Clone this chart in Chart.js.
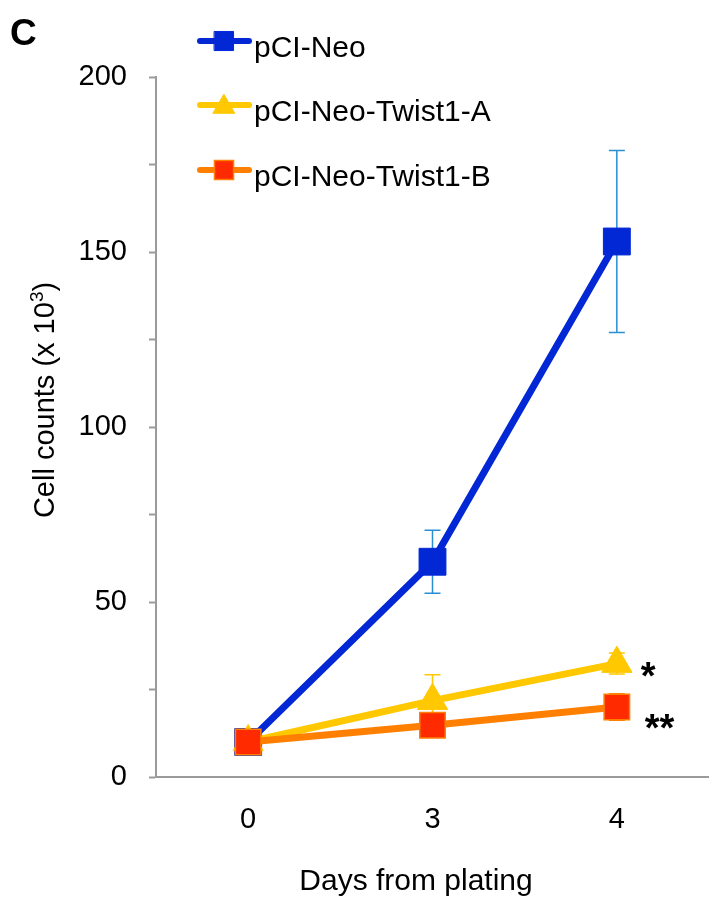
<!DOCTYPE html>
<html>
<head>
<meta charset="utf-8">
<script src="https://cdn.jsdelivr.net/npm/chart.js@4.4.1/dist/chart.umd.min.js"></script>
<style>
    html, body { margin: 0; padding: 0; background: #fff; }
    #wrap { width: 709px; height: 899px; position: relative; }
</style>
</head>
<body>
<div id="wrap"><canvas id="growthChart"></canvas></div>
<script>
// Data (cell counts x 10^3)
const days = ['0', '3', '4'];
const seriesNames = ['pCI-Neo', 'pCI-Neo-Twist1-A', 'pCI-Neo-Twist1-B'];
const neoCounts = [10, 61.5, 153];
const twistACounts = [10, 21.8, 32.4];
const twistBCounts = [10, 14.8, 20];
const neoErrors = [0, 9, 26];
const twistAErrors = [0, 7.4, 3];
const twistBErrors = [0, 1.5, 3.8];
const significance = ['', '*', '**'];
const yTickLabels = [0, 50, 100, 150, 200];

const FONT = "'Liberation Sans', Arial, Helvetica, sans-serif";
Chart.defaults.font.family = FONT;
Chart.defaults.color = '#000';

const AXIS_GREY = '#9a9a9a';

// Error bars, drawn under the lines and markers
const errorBars = {
    id: 'errorBars',
    beforeDatasetsDraw(chart) {
        const ctx = chart.ctx;
        const y = chart.scales.y;
        chart.data.datasets.forEach((ds, di) => {
            const meta = chart.getDatasetMeta(di);
            ds.errors.forEach((err, i) => {
                if (!err) return;
                const x = meta.data[i].x;
                const top = y.getPixelForValue(ds.data[i] + err);
                const bottom = y.getPixelForValue(ds.data[i] - err);
                ctx.save();
                ctx.strokeStyle = ds.errorColor;
                ctx.lineWidth = 1.5;
                ctx.beginPath();
                ctx.moveTo(x, top); ctx.lineTo(x, bottom);
                ctx.moveTo(x - 8, top); ctx.lineTo(x + 8, top);
                ctx.moveTo(x - 8, bottom); ctx.lineTo(x + 8, bottom);
                ctx.stroke();
                ctx.restore();
            });
        });
    }
};

// Panel letter, legend, axis titles and significance stars
const annotations = {
    id: 'annotations',
    afterDraw(chart) {
        const ctx = chart.ctx;
        const {x, y} = chart.scales;
        ctx.save();

        // panel letter
        ctx.fillStyle = '#000';
        ctx.font = 'bold 37px ' + FONT;
        ctx.textBaseline = 'alphabetic';
        ctx.textAlign = 'left';
        ctx.fillText('C', 10, 45);

        // legend
        const rowY = [41, 105, 170];
        chart.data.datasets.forEach((ds, i) => {
            const ly = rowY[i];
            ctx.strokeStyle = ds.borderColor;
            ctx.lineWidth = 6;
            ctx.lineCap = 'round';
            ctx.beginPath();
            ctx.moveTo(200, ly);
            ctx.lineTo(249, ly);
            ctx.stroke();
            ctx.fillStyle = ds.pointBackgroundColor;
            ctx.strokeStyle = ds.pointBorderColor;
            ctx.lineWidth = ds.pointBorderWidth;
            Chart.helpers.drawPoint(ctx, {
                pointStyle: ds.pointStyle,
                radius: ds.pointStyle === 'triangle' ? 12.5 : 13.5,
                borderWidth: ds.pointBorderWidth,
                rotation: 0
            }, 224, ds.pointStyle === 'triangle' ? ly + 2 : ly);
            ctx.fillStyle = '#000';
            ctx.font = '30px ' + FONT;
            ctx.fillText(ds.label, 254, ly + 16);
        });

        // y axis title with superscript
        ctx.translate(54, 400);
        ctx.rotate(-Math.PI / 2);
        ctx.font = '29px ' + FONT;
        const main = 'Cell counts (x 10';
        const wMain = ctx.measureText(main).width;
        ctx.font = '19px ' + FONT;
        const wSup = ctx.measureText('3').width;
        ctx.font = '29px ' + FONT;
        const wEnd = ctx.measureText(')').width;
        let tx = -(wMain + wSup + wEnd) / 2;
        ctx.fillText(main, tx, 0);
        tx += wMain;
        ctx.font = '19px ' + FONT;
        ctx.fillText('3', tx, -11);
        tx += wSup;
        ctx.font = '29px ' + FONT;
        ctx.fillText(')', tx, 0);
        ctx.setTransform(1, 0, 0, 1, 0, 0);

        // x axis title
        ctx.textAlign = 'center';
        ctx.font = '30px ' + FONT;
        ctx.fillText('Days from plating', 416, 890);

        // significance stars next to the last point
        ctx.textAlign = 'left';
        ctx.font = 'bold 38px ' + FONT;
        const last = days.length - 1;
        const starOffset = [[0, 0], [24, 25], [28, 34]];
        chart.data.datasets.forEach((ds, i) => {
            if (!significance[i]) return;
            const px = x.getPixelForValue(last) + starOffset[i][0];
            const py = y.getPixelForValue(ds.data[last]) + starOffset[i][1];
            ctx.fillText(significance[i], px, py);
        });

        ctx.restore();
    }
};

const ctx = document.getElementById('growthChart').getContext('2d');
const growthChart = new Chart(ctx, {
    type: 'line',
    data: {
        labels: days,
        datasets: [{
            label: seriesNames[0],
            data: neoCounts,
            errors: neoErrors,
            errorColor: '#2a8fd2',
            borderColor: '#0228d6',
            borderWidth: 7,
            pointStyle: 'rect',
            pointRadius: 19,
            pointBackgroundColor: '#0228d6',
            pointBorderColor: '#0228d6',
            pointBorderWidth: 1,
            order: 3
        }, {
            label: seriesNames[1],
            data: twistACounts,
            errors: twistAErrors,
            errorColor: '#ffc800',
            borderColor: '#ffc800',
            borderWidth: 7,
            pointStyle: 'triangle',
            pointRadius: 17.5,
            pointBackgroundColor: '#ffc800',
            pointBorderColor: '#ffc800',
            pointBorderWidth: 1,
            order: 2
        }, {
            label: seriesNames[2],
            data: twistBCounts,
            errors: twistBErrors,
            errorColor: '#ff7f00',
            borderColor: '#ff7f00',
            borderWidth: 7,
            pointStyle: 'rect',
            pointRadius: 18,
            pointBackgroundColor: '#ff2a00',
            pointBorderColor: '#ff8000',
            pointBorderWidth: 1.5,
            order: 1
        }]
    },
    options: {
        responsive: true,
        maintainAspectRatio: false,
        animation: false,
        layout: {
            autoPadding: false,
            padding: { top: 77, right: 0, bottom: 0, left: 0 }
        },
        scales: {
            x: {
                offset: true,
                grid: { display: false, drawTicks: false },
                border: { display: true, color: AXIS_GREY, width: 2 },
                ticks: { padding: 26, font: { size: 29 } },
                afterFit(scale) { scale.height = 122; }
            },
            y: {
                min: 0,
                max: 200,
                ticks: {
                    stepSize: 25,
                    padding: 22,
                    font: { size: 29 },
                    callback: value => yTickLabels.includes(value) ? value : ''
                },
                grid: {
                    drawOnChartArea: false,
                    drawTicks: true,
                    tickLength: 7,
                    tickColor: AXIS_GREY,
                    tickWidth: 2
                },
                border: { display: true, color: AXIS_GREY, width: 2 },
                afterFit(scale) { scale.width = 156; }
            }
        },
        plugins: {
            legend: { display: false },
            tooltip: { enabled: false }
        }
    },
    plugins: [errorBars, annotations]
});
</script>
</body>
</html>
